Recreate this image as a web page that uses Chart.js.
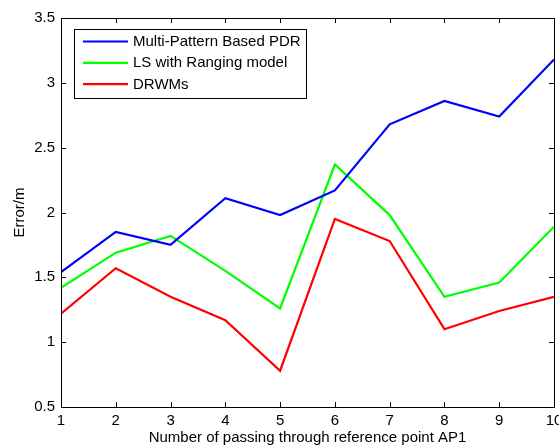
<!DOCTYPE html>
<html>
<head>
<meta charset="utf-8">
<title>Error vs passes through AP1</title>
<script src="https://cdn.jsdelivr.net/npm/chart.js@4.4.1/dist/chart.umd.min.js"></script>
<style>
    html, body { margin: 0; padding: 0; background: #fff; }
    #wrap { width: 559px; height: 447px; position: relative; }
</style>
</head>
<body>
<div id="wrap"><canvas id="errorChart"></canvas></div>
<script>
// 통과 횟수 (x축)
const passCounts = [1, 2, 3, 4, 5, 6, 7, 8, 9, 10];

// 방법별 오차 (m)
const multiPatternPdr = [1.54, 1.85, 1.75, 2.11, 1.98, 2.17, 2.68, 2.86, 2.74, 3.18];
const lsRanging       = [1.42, 1.69, 1.82, 1.55, 1.26, 2.37, 1.98, 1.35, 1.46, 1.89];
const drwms           = [1.22, 1.57, 1.35, 1.17, 0.78, 1.95, 1.78, 1.10, 1.24, 1.35];

const seriesLabels = ['Multi-Pattern Based PDR', 'LS with Ranging model', 'DRWMs'];
const seriesColors = ['#0000ff', '#00ff00', '#ff0000'];

const FONT = '"Liberation Sans", Arial, sans-serif';
const FONT_SIZE = 15;

function toPoints(values) {
    return passCounts.map((x, i) => ({ x: x, y: values[i] }));
}

// 축 상자 + 안쪽 눈금 (위/오른쪽 포함)
const axesBoxPlugin = {
    id: 'axesBox',
    afterDatasetsDraw(chart) {
        const { ctx, chartArea: a, scales } = chart;
        const len = 5;
        ctx.save();
        ctx.strokeStyle = '#000';
        ctx.lineWidth = 1;
        ctx.beginPath();
        ctx.rect(Math.round(a.left) + 0.5, Math.round(a.top) + 0.5,
                 Math.round(a.right - a.left), Math.round(a.bottom - a.top));
        scales.x.ticks.forEach(t => {
            const px = Math.round(scales.x.getPixelForValue(t.value)) + 0.5;
            ctx.moveTo(px, a.bottom); ctx.lineTo(px, a.bottom - len);
            ctx.moveTo(px, a.top);    ctx.lineTo(px, a.top + len);
        });
        scales.y.ticks.forEach(t => {
            const py = Math.round(scales.y.getPixelForValue(t.value)) + 0.5;
            ctx.moveTo(a.left, py);  ctx.lineTo(a.left + len, py);
            ctx.moveTo(a.right, py); ctx.lineTo(a.right - len, py);
        });
        ctx.stroke();
        ctx.restore();
    }
};

// 범례 상자
const boxLegendPlugin = {
    id: 'boxLegend',
    afterDraw(chart) {
        const ctx = chart.ctx;
        const x = 74.5, y = 29.5, w = 232, h = 69;
        ctx.save();
        ctx.fillStyle = '#fff';
        ctx.fillRect(x, y, w, h);
        ctx.strokeStyle = '#000';
        ctx.lineWidth = 1;
        ctx.strokeRect(x, y, w, h);
        ctx.font = FONT_SIZE + 'px ' + FONT;
        ctx.textBaseline = 'middle';
        chart.data.datasets.forEach((ds, i) => {
            const rowY = 41.5 + i * 21.3;
            ctx.strokeStyle = ds.borderColor;
            ctx.lineWidth = 2.2;
            ctx.beginPath();
            ctx.moveTo(83, rowY);
            ctx.lineTo(128, rowY);
            ctx.stroke();
            ctx.fillStyle = '#000';
            ctx.fillText(ds.label, 133, rowY + 0.5);
        });
        ctx.restore();
    }
};

const allSeries = [multiPatternPdr, lsRanging, drwms];

new Chart(document.getElementById('errorChart'), {
    type: 'line',
    data: {
        datasets: allSeries.map((vals, i) => ({
            label: seriesLabels[i],
            data: toPoints(vals),
            borderColor: seriesColors[i],
            backgroundColor: seriesColors[i],
            borderWidth: 2.2,
            pointRadius: 0,
            tension: 0,
            fill: false
        }))
    },
    options: {
        responsive: true,
        maintainAspectRatio: false,
        animation: false,
        devicePixelRatio: 1,
        layout: { padding: { top: 18, right: 5, bottom: 0, left: 0 } },
        plugins: {
            legend: { display: false },
            tooltip: { enabled: false }
        },
        scales: {
            x: {
                type: 'linear',
                min: 1,
                max: 10,
                ticks: { stepSize: 1, color: '#000', padding: 5, font: { family: FONT, size: FONT_SIZE } },
                grid: { drawOnChartArea: false, drawTicks: false },
                border: { color: '#000' },
                title: {
                    display: true,
                    text: 'Number of passing through reference point AP1',
                    color: '#000',
                    font: { family: FONT, size: FONT_SIZE },
                    padding: { top: 0, bottom: 0 }
                },
                afterFit(scale) {
                    scale.height = 40;
                    // 마지막 눈금 라벨은 캔버스 밖으로 잘려도 됨
                    scale.paddingLeft = 0;
                    scale.paddingRight = 0;
                }
            },
            y: {
                min: 0.5,
                max: 3.5,
                ticks: {
                    stepSize: 0.5,
                    color: '#000',
                    padding: 6,
                    font: { family: FONT, size: FONT_SIZE },
                    callback: v => String(v)
                },
                grid: { drawOnChartArea: false, drawTicks: false },
                border: { color: '#000' },
                title: {
                    display: true,
                    text: 'Error/m',
                    color: '#000',
                    font: { family: FONT, size: FONT_SIZE },
                    padding: { top: 11, bottom: 0 }
                },
                afterFit(scale) {
                    scale.width = 61;
                    scale.paddingTop = 0;
                    scale.paddingBottom = 0;
                }
            }
        }
    },
    plugins: [axesBoxPlugin, boxLegendPlugin]
});
</script>
</body>
</html>
